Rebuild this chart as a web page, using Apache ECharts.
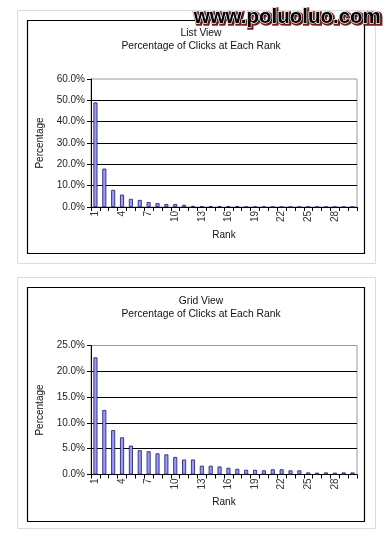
<!DOCTYPE html>
<html><head><meta charset="utf-8">
<script src="https://cdn.jsdelivr.net/npm/echarts@6/dist/echarts.min.js"></script>
<style>html,body{margin:0;padding:0;background:#fff}#c{width:392px;height:540px}</style>
</head><body><div id="c"></div>
<script>
const ranks = ['1','2','3','4','5','6','7','8','9','10','11','12','13','14','15','16','17','18','19','20','21','22','23','24','25','26','27','28','29','30'];
const listViewValues = [49.0, 18.0, 8.0, 5.8, 3.8, 3.3, 2.3, 1.8, 1.4, 1.4, 1.0, 0.5, 0.4, 0.4, 0.4, 0.4, 0.4, 0.05, 0.05, 0.05, 0.05, 0.05, 0.05, 0.05, 0.05, 0.05, 0.05, 0.05, 0.05, 0.05];
const gridViewValues = [22.7, 12.5, 8.6, 7.2, 5.6, 4.7, 4.5, 4.1, 3.9, 3.4, 2.9, 2.9, 1.7, 1.7, 1.55, 1.3, 1.1, 0.9, 0.9, 0.8, 1.0, 1.0, 0.8, 0.8, 0.4, 0.35, 0.4, 0.35, 0.4, 0.4];
const listYTicks = [0, 10, 20, 30, 40, 50, 60];
const gridYTicks = [0, 5, 10, 15, 20, 25];
const listTitle = 'List View\nPercentage of Clicks at Each Rank';
const gridTitle = 'Grid View\nPercentage of Clicks at Each Rank';
const yName = 'Percentage';
const xName = 'Rank';

const FONT = '"Liberation Sans", Arial, sans-serif';
const chart = echarts.init(document.getElementById('c'), null, {renderer: 'canvas'});

function xAxis(gi) {
  return {
    type: 'category', gridIndex: gi, data: ranks, boundaryGap: true,
    name: xName, nameLocation: 'middle', nameGap: 23,
    nameTextStyle: {fontFamily: FONT, fontSize: 10, color: '#111'},
    axisLine: {lineStyle: {color: '#000', width: 1}},
    axisTick: {show: true, interval: 0, length: 4, lineStyle: {color: '#000'}},
    axisLabel: {interval: 2, rotate: 90, margin: 4, fontFamily: FONT, fontSize: 10, color: '#333'},
    splitLine: {show: false}
  };
}
function yAxis(gi, ticks) {
  return {
    type: 'value', gridIndex: gi, min: ticks[0], max: ticks[ticks.length - 1],
    interval: ticks[1] - ticks[0],
    name: yName, nameLocation: 'middle', nameGap: 41,
    nameTextStyle: {fontFamily: FONT, fontSize: 10, color: '#111'},
    axisLine: {show: true, lineStyle: {color: '#000', width: 1}},
    axisTick: {show: true, length: 4, lineStyle: {color: '#000'}},
    axisLabel: {margin: 6, fontFamily: FONT, fontSize: 10, color: '#222',
      formatter: v => v.toFixed(1) + '%'},
    splitLine: {show: true, showMinLine: false, showMaxLine: false, lineStyle: {color: '#000', width: 1}}
  };
}
const barStyle = {color: '#9999ff', borderColor: '#1a1a5a', borderWidth: 0.8};

chart.setOption({
  backgroundColor: '#fff',
  animation: false,
  title: [
    {text: listTitle, left: 196, top: 21, textAlign: 'center',
     textStyle: {fontFamily: FONT, fontSize: 10.3, fontWeight: 'normal', color: '#111', lineHeight: 13.6}},
    {text: gridTitle, left: 196, top: 289, textAlign: 'center',
     textStyle: {fontFamily: FONT, fontSize: 10.3, fontWeight: 'normal', color: '#111', lineHeight: 13.6}}
  ],
  grid: [
    {left: 91, top: 79, width: 266, height: 128, show: true, borderColor: '#999', borderWidth: 1, backgroundColor: '#fff'},
    {left: 91, top: 345.5, width: 266, height: 129, show: true, borderColor: '#999', borderWidth: 1, backgroundColor: '#fff'}
  ],
  xAxis: [xAxis(0), xAxis(1)],
  yAxis: [yAxis(0, listYTicks), yAxis(1, gridYTicks)],
  series: [
    {type: 'bar', xAxisIndex: 0, yAxisIndex: 0, data: listViewValues, barWidth: 4, itemStyle: barStyle},
    {type: 'bar', xAxisIndex: 1, yAxisIndex: 1, data: gridViewValues, barWidth: 4, itemStyle: barStyle}
  ],
  graphic: [
    {type: 'rect', z: -10, shape: {x: 17.5, y: 10.5, width: 358, height: 253}, style: {fill: 'none', stroke: '#dcdcdc', lineWidth: 1}},
    {type: 'rect', z: -10, shape: {x: 27.5, y: 20.5, width: 337, height: 233}, style: {fill: 'none', stroke: '#000', lineWidth: 1.2}},
    {type: 'rect', z: -10, shape: {x: 17.5, y: 277.5, width: 358, height: 251}, style: {fill: 'none', stroke: '#dcdcdc', lineWidth: 1}},
    {type: 'rect', z: -10, shape: {x: 27.5, y: 287.5, width: 337, height: 234}, style: {fill: 'none', stroke: '#000', lineWidth: 1.2}},
    {type: 'text', z: 100, left: 193, top: 6, style: {text: 'www.poluoluo.com', font: 'bold 20.5px ' + FONT, fill: '#000', stroke: '#7a1c1c', lineWidth: 3.5}},
    {type: 'text', z: 101, left: 193, top: 6, style: {text: 'www.poluoluo.com', font: 'bold 20.5px ' + FONT, fill: '#000', stroke: '#fff', lineWidth: 1.4}}
  ]
});
</script>
</body></html>
